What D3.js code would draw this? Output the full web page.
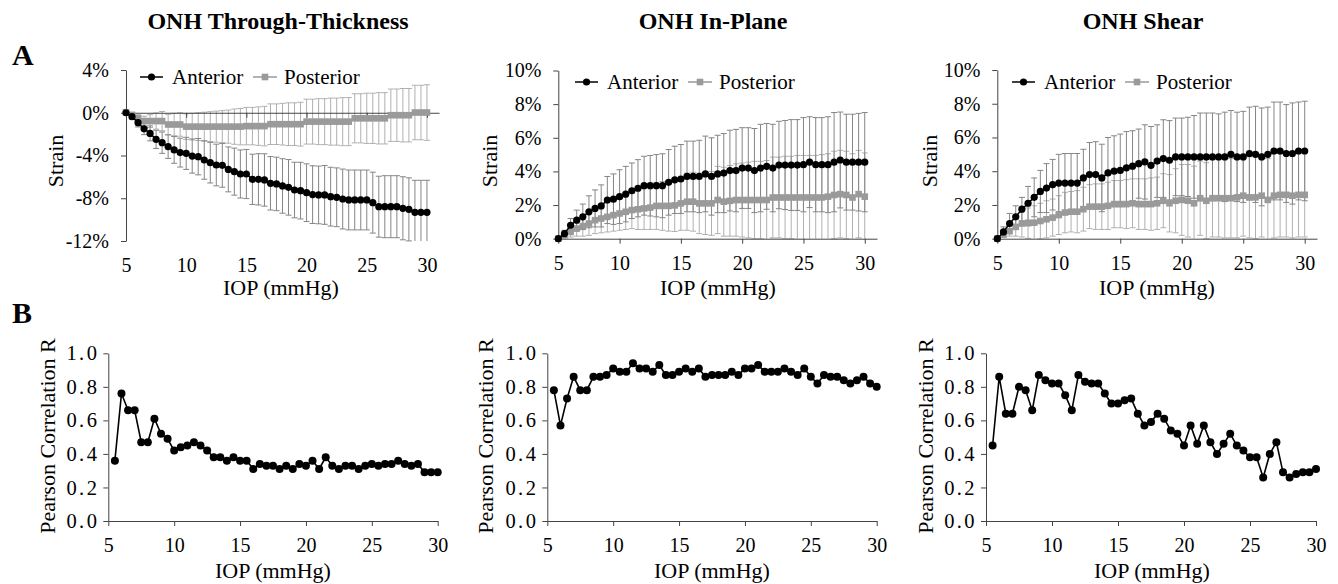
<!DOCTYPE html>
<html>
<head>
<meta charset="utf-8">
<script src="https://cdn.jsdelivr.net/npm/d3@7"></script>
<style>
  body { margin: 0; background: #fff; }
  svg { display: block; }
</style>
</head>
<body>
<script>
// ---- data ----
const iop = [5, 5.5, 6, 6.5, 7, 7.5, 8, 8.5, 9, 9.5, 10, 10.5, 11, 11.5, 12, 12.5, 13, 13.5, 14, 14.5,
  15, 15.5, 16, 16.5, 17, 17.5, 18, 18.5, 19, 19.5, 20, 20.5, 21, 21.5, 22, 22.5, 23, 23.5, 24, 24.5,
  25, 25.5, 26, 26.5, 27, 27.5, 28, 28.5, 29, 29.5, 30];
const iopCorr = iop.slice(1); // correlation starts at 5.5 mmHg

const panelTitles = ["ONH Through-Thickness", "ONH In-Plane", "ONH Shear"];
const seriesNames = ["Anterior", "Posterior"];
const xTicks = [5, 10, 15, 20, 25, 30];
const strainDomains = [[-12, 4], [0, 10], [0, 10]];
const strainTicks = [[4, 0, -4, -8, -12], [10, 8, 6, 4, 2, 0], [10, 8, 6, 4, 2, 0]];
const corrTicks = [0, 0.2, 0.4, 0.6, 0.8, 1.0];

// through-thickness strain (%)
const ttAnterior = [0, -0.37, -0.93, -1.5, -1.93, -2.49, -2.8, -3.17, -3.48, -3.73,
  -3.8, -4.05, -4.11, -4.42, -4.67, -4.89, -4.92, -5.3, -5.51, -5.73,
  -5.73, -6.23, -6.23, -6.29, -6.6, -6.66, -6.85, -6.98, -7.23, -7.29,
  -7.48, -7.66, -7.69, -7.69, -7.85, -7.91, -8.07, -8.16, -8.16, -8.16,
  -8.16, -8.41, -8.79, -8.79, -8.79, -8.79, -8.94, -9.04, -9.32, -9.32, -9.32];
const ttAnteriorSD = [0, 0.2, 0.4, 0.55, 0.7, 0.85, 1.0, 1.1, 1.25, 1.35,
  1.5, 1.6, 1.7, 1.8, 1.9, 1.95, 2.05, 2.1, 2.2, 2.25,
  2.3, 2.35, 2.4, 2.45, 2.5, 2.5, 2.55, 2.6, 2.6, 2.65,
  2.7, 2.7, 2.7, 2.75, 2.75, 2.75, 2.8, 2.8, 2.8, 2.8,
  2.8, 2.85, 2.85, 2.9, 2.9, 2.9, 2.95, 2.95, 3.0, 3.0, 3.0];
const ttPosterior = [0.05, -0.2, -0.5, -0.78, -0.78, -0.78, -0.78, -1.1, -1.1, -1.1,
  -1.3, -1.3, -1.3, -1.3, -1.3, -1.3, -1.3, -1.3, -1.3, -1.3,
  -1.25, -1.25, -1.25, -1.25, -1.07, -1.07, -1.07, -1.07, -1.07, -1.07,
  -0.83, -0.83, -0.83, -0.83, -0.83, -0.83, -0.83, -0.83, -0.52, -0.52,
  -0.52, -0.52, -0.52, -0.52, -0.23, -0.23, -0.23, -0.23, 0.02, 0.02, 0.02];
const ttPosteriorSD = [0, 0.15, 0.3, 0.45, 0.6, 0.75, 0.9, 0.95, 1.05, 1.1,
  1.2, 1.25, 1.3, 1.35, 1.4, 1.45, 1.5, 1.55, 1.65, 1.7,
  1.75, 1.75, 1.8, 1.85, 1.9, 1.9, 1.95, 2.0, 2.0, 2.05,
  2.1, 2.1, 2.15, 2.15, 2.2, 2.2, 2.25, 2.25, 2.3, 2.3,
  2.35, 2.35, 2.4, 2.4, 2.45, 2.45, 2.5, 2.5, 2.55, 2.55, 2.6];

// in-plane strain (%)
const ipAnterior = [0, 0.3, 0.8, 1.1, 1.3, 1.6, 1.8, 1.95, 2.3, 2.35,
  2.5, 2.65, 2.85, 3.0, 3.15, 3.15, 3.15, 3.15, 3.35, 3.5,
  3.55, 3.7, 3.7, 3.7, 3.85, 3.7, 3.85, 3.9, 4.05, 4.05,
  4.2, 4.2, 4.05, 4.2, 4.3, 4.2, 4.38, 4.38, 4.38, 4.38,
  4.4, 4.55, 4.4, 4.4, 4.4, 4.55, 4.68, 4.55, 4.55, 4.55, 4.55];
const ipAnteriorSD = [0, 0.2, 0.4, 0.6, 0.76, 0.95, 1.1, 1.25, 1.4, 1.5,
  1.6, 1.65, 1.65, 1.7, 1.75, 1.8, 1.85, 1.9, 1.95, 2.0,
  2.05, 2.1, 2.1, 2.15, 2.25, 2.3, 2.3, 2.35, 2.4, 2.45,
  2.4, 2.4, 2.5, 2.6, 2.55, 2.6, 2.6, 2.65, 2.7, 2.7,
  2.8, 2.7, 2.8, 2.8, 2.85, 2.95, 2.85, 2.85, 2.85, 2.9, 2.95];
const ipPosterior = [0, 0.2, 0.4, 0.6, 0.75, 0.9, 1.1, 1.2, 1.3, 1.4,
  1.5, 1.6, 1.7, 1.75, 1.8, 1.85, 1.95, 1.95, 1.95, 1.98,
  2.1, 2.2, 2.2, 2.1, 2.1, 2.1, 2.3, 2.2, 2.25, 2.3,
  2.3, 2.3, 2.3, 2.3, 2.3, 2.45, 2.45, 2.45, 2.45, 2.45,
  2.45, 2.45, 2.45, 2.45, 2.5, 2.6, 2.65, 2.6, 2.45, 2.65, 2.5];
const ipPosteriorSD = [0, 0.15, 0.3, 0.45, 0.6, 0.7, 0.8, 0.85, 0.9, 0.95,
  1.0, 1.05, 1.1, 1.2, 1.25, 1.3, 1.4, 1.45, 1.5, 1.55,
  1.6, 1.7, 1.75, 1.8, 1.85, 1.9, 2.0, 2.05, 2.1, 2.15,
  2.2, 2.25, 2.3, 2.3, 2.35, 2.4, 2.4, 2.45, 2.45, 2.5,
  2.5, 2.5, 2.5, 2.55, 2.55, 2.6, 2.6, 2.6, 2.6, 2.6, 2.6];

// shear strain (%)
const shAnterior = [0, 0.4, 0.9, 1.3, 1.75, 2.1, 2.45, 2.8, 3.0, 3.2,
  3.3, 3.3, 3.3, 3.3, 3.6, 3.8, 3.8, 3.6, 3.9, 4.0,
  4.05, 4.2, 4.3, 4.45, 4.55, 4.35, 4.6, 4.75, 4.65, 4.85,
  4.85, 4.85, 4.85, 4.85, 4.85, 4.85, 4.85, 4.85, 5.0, 4.85,
  4.85, 5.05, 5.0, 4.85, 5.0, 5.2, 5.2, 5.05, 5.05, 5.2, 5.2];
const shAnteriorSD = [0, 0.3, 0.6, 0.65, 0.7, 1.0, 1.15, 1.25, 1.45, 1.5,
  1.7, 1.75, 1.75, 1.75, 1.7, 1.9, 1.95, 2.0, 2.1, 2.1,
  2.15, 2.15, 2.1, 2.05, 2.2, 2.3, 2.15, 2.3, 2.35, 2.3,
  2.3, 2.35, 2.45, 2.6, 2.6, 2.6, 2.55, 2.65, 2.6, 2.65,
  2.7, 2.75, 2.85, 2.9, 2.8, 2.9, 2.9, 2.9, 3.0, 2.9, 2.95];
const shPosterior = [0, 0.25, 0.45, 0.7, 0.9, 0.92, 0.95, 1.05, 1.15, 1.25,
  1.4, 1.55, 1.6, 1.6, 1.75, 1.9, 1.9, 1.9, 1.95, 2.05,
  2.05, 2.05, 2.1, 2.05, 2.05, 2.05, 2.1, 2.25, 2.1, 2.25,
  2.3, 2.25, 2.1, 2.4, 2.25, 2.4, 2.4, 2.4, 2.4, 2.45,
  2.55, 2.45, 2.45, 2.55, 2.3, 2.55, 2.6, 2.6, 2.55, 2.6, 2.6];
const shPosteriorSD = [0, 0.15, 0.3, 0.55, 0.8, 0.9, 1.0, 1.05, 1.1, 1.1,
  1.15, 1.2, 1.2, 1.25, 1.3, 1.3, 1.35, 1.35, 1.4, 1.4,
  1.4, 1.45, 1.45, 1.5, 1.5, 1.55, 1.55, 1.6, 1.7, 1.9,
  2.1, 2.15, 2.2, 2.2, 2.25, 2.3, 2.3, 2.35, 2.35, 2.4,
  2.4, 2.4, 2.45, 2.45, 2.45, 2.5, 2.5, 2.5, 2.5, 2.5, 2.5];

// Pearson correlation R, anterior vs posterior
const rThrough = [0.36, 0.76, 0.66, 0.66, 0.47, 0.47, 0.61, 0.52, 0.49,
  0.42, 0.44, 0.45, 0.47, 0.45, 0.42, 0.38, 0.38, 0.36, 0.38,
  0.36, 0.36, 0.31, 0.34, 0.33, 0.33, 0.31, 0.33, 0.31, 0.34,
  0.33, 0.36, 0.31, 0.38, 0.33, 0.31, 0.33, 0.33, 0.31, 0.33,
  0.34, 0.33, 0.34, 0.34, 0.36, 0.34, 0.33, 0.34, 0.29, 0.29, 0.29];
const rInPlane = [0.78, 0.57, 0.73, 0.86, 0.78, 0.78, 0.86, 0.86, 0.87,
  0.91, 0.89, 0.89, 0.94, 0.91, 0.91, 0.89, 0.93, 0.87, 0.87,
  0.89, 0.91, 0.89, 0.91, 0.86, 0.87, 0.87, 0.87, 0.89, 0.87,
  0.91, 0.91, 0.93, 0.89, 0.89, 0.89, 0.91, 0.89, 0.87, 0.91,
  0.86, 0.82, 0.87, 0.86, 0.86, 0.84, 0.82, 0.84, 0.86, 0.82, 0.80];
const rShear = [0.45, 0.86, 0.64, 0.64, 0.80, 0.78, 0.66, 0.87, 0.84,
  0.82, 0.82, 0.75, 0.66, 0.87, 0.83, 0.82, 0.82, 0.76, 0.70,
  0.70, 0.72, 0.73, 0.64, 0.57, 0.59, 0.64, 0.61, 0.54, 0.52,
  0.45, 0.57, 0.46, 0.57, 0.47, 0.40, 0.46, 0.52, 0.45, 0.42,
  0.38, 0.38, 0.26, 0.40, 0.47, 0.29, 0.26, 0.28, 0.29, 0.29, 0.31];

const anteriorMeans = [ttAnterior, ipAnterior, shAnterior];
const anteriorSDs = [ttAnteriorSD, ipAnteriorSD, shAnteriorSD];
const posteriorMeans = [ttPosterior, ipPosterior, shPosterior];
const posteriorSDs = [ttPosteriorSD, ipPosteriorSD, shPosteriorSD];
const correlations = [rThrough, rInPlane, rShear];

// ---- layout ----
const width = 1338;
const height = 584;
const font = "'Liberation Serif', 'Times New Roman', Times, serif";
const axisColor = "#444";

const topLayout = [
  { left: 126, right: 439, top: 70, bottom: 241, legendX: 140, legendY: 77, titleX: 278, xTitleX: 281, yTitleX: 63 },
  { left: 558.3, right: 877, top: 70.5, bottom: 238.7, legendX: 575, legendY: 82, titleX: 713, xTitleX: 718, yTitleX: 497 },
  { left: 997.3, right: 1317, top: 70, bottom: 238.7, legendX: 1012, legendY: 82, titleX: 1143, xTitleX: 1157, yTitleX: 937 }
];
const bottomLayout = [
  { left: 108.3, right: 437.7, xTitleX: 273, yTitleX: 55 },
  { left: 547.3, right: 876.7, xTitleX: 712, yTitleX: 493 },
  { left: 986, right: 1316, xTitleX: 1152, yTitleX: 933 }
];
const bottomTop = 353.3;
const bottomBottom = 521;

const svg = d3.select("body").append("svg")
  .attr("width", width)
  .attr("height", height)
  .attr("font-family", font);

function styleAxis(g, size) {
  g.attr("font-family", font).attr("font-size", size);
  g.selectAll("text").attr("fill", "#000");
  g.selectAll("line").attr("stroke", axisColor);
  g.selectAll("path").attr("stroke", axisColor);
}

// panel letters
svg.append("text").attr("x", 12).attr("y", 65).attr("font-size", 30).attr("font-weight", "bold").text("A");
svg.append("text").attr("x", 12).attr("y", 323).attr("font-size", 30).attr("font-weight", "bold").text("B");

// ---- row A: strain vs IOP ----
topLayout.forEach((box, i) => {
  const g = svg.append("g");
  const x = d3.scaleLinear().domain([5, 31]).range([box.left, box.right]);
  const y = d3.scaleLinear().domain(strainDomains[i]).range([box.bottom, box.top]);
  const [lo, hi] = strainDomains[i];

  g.append("text")
    .attr("x", box.titleX).attr("y", 29)
    .attr("text-anchor", "middle")
    .attr("font-size", 24).attr("font-weight", "bold")
    .text(panelTitles[i]);

  const series = [
    { mean: anteriorMeans[i], sd: anteriorSDs[i], color: "#000", bar: "#858585" },
    { mean: posteriorMeans[i], sd: posteriorSDs[i], color: "#9a9a9a", bar: "#b0b0b0" }
  ];

  // error bars first, so markers sit on top
  series.slice().reverse().forEach(s => {
    const rows = iop.map((p, j) => ({ p, m: s.mean[j], sd: s.sd[j] }));
    const bars = g.append("g").attr("stroke", s.bar).attr("stroke-width", 1);
    bars.selectAll("line.v")
      .data(rows)
      .join("line")
      .attr("class", "v")
      .attr("x1", d => x(d.p)).attr("x2", d => x(d.p))
      .attr("y1", d => y(Math.max(d.m - d.sd, lo)))
      .attr("y2", d => y(Math.min(d.m + d.sd, hi)));
    const caps = [];
    rows.forEach(d => {
      if (d.sd > 0 && d.m - d.sd >= lo) caps.push({ p: d.p, v: d.m - d.sd });
      if (d.sd > 0 && d.m + d.sd <= hi) caps.push({ p: d.p, v: d.m + d.sd });
    });
    bars.selectAll("line.cap")
      .data(caps)
      .join("line")
      .attr("class", "cap")
      .attr("x1", d => x(d.p) - 3).attr("x2", d => x(d.p) + 3)
      .attr("y1", d => y(d.v)).attr("y2", d => y(d.v));
  });

  // axes
  g.append("g")
    .attr("transform", `translate(${box.left},0)`)
    .call(d3.axisLeft(y).tickValues(strainTicks[i]).tickSize(5).tickSizeOuter(0).tickPadding(12).tickFormat(d => d + "%"))
    .call(a => styleAxis(a, 20));

  g.append("g")
    .attr("transform", `translate(0,${y(0)})`)
    .call(d3.axisBottom(x).tickValues(xTicks).tickSize(5).tickSizeOuter(0).tickFormat(""))
    .call(a => styleAxis(a, 20));

  g.append("g")
    .attr("transform", `translate(0,${box.bottom})`)
    .call(d3.axisBottom(x).tickValues(xTicks).tickSize(0).tickPadding(17))
    .call(a => a.select(".domain").remove())
    .call(a => styleAxis(a, 20));

  // lines and markers: posterior under anterior
  const line = d3.line().x((d, j) => x(iop[j])).y(d => y(d));
  const post = series[1];
  g.append("path")
    .datum(post.mean)
    .attr("fill", "none").attr("stroke", post.color).attr("stroke-width", 1.5)
    .attr("d", line);
  g.append("g").selectAll("rect")
    .data(post.mean)
    .join("rect")
    .attr("x", (d, j) => x(iop[j]) - 3.3).attr("y", d => y(d) - 3.3)
    .attr("width", 6.6).attr("height", 6.6)
    .attr("fill", post.color);

  const ant = series[0];
  g.append("path")
    .datum(ant.mean)
    .attr("fill", "none").attr("stroke", ant.color).attr("stroke-width", 1.5)
    .attr("d", line);
  g.append("g").selectAll("circle")
    .data(ant.mean)
    .join("circle")
    .attr("cx", (d, j) => x(iop[j])).attr("cy", d => y(d))
    .attr("r", 3.6)
    .attr("fill", ant.color);

  // legend
  const lg = g.append("g").attr("transform", `translate(${box.legendX},${box.legendY})`);
  lg.append("line").attr("x1", 0).attr("x2", 23).attr("stroke", "#000").attr("stroke-width", 1.5);
  lg.append("circle").attr("cx", 11.5).attr("r", 3.6).attr("fill", "#000");
  lg.append("text").attr("x", 32).attr("y", 7).attr("font-size", 21).text(seriesNames[0]);
  lg.append("line").attr("x1", 113).attr("x2", 137).attr("stroke", "#9a9a9a").attr("stroke-width", 1.5);
  lg.append("rect").attr("x", 121.7).attr("y", -3.3).attr("width", 6.6).attr("height", 6.6).attr("fill", "#9a9a9a");
  lg.append("text").attr("x", 144).attr("y", 7).attr("font-size", 21).text(seriesNames[1]);

  // axis titles
  g.append("text")
    .attr("transform", `translate(${box.yTitleX},161) rotate(-90)`)
    .attr("text-anchor", "middle").attr("font-size", 22)
    .text("Strain");
  g.append("text")
    .attr("x", box.xTitleX).attr("y", 295)
    .attr("text-anchor", "middle").attr("font-size", 22)
    .text("IOP (mmHg)");
});

// ---- row B: Pearson correlation vs IOP ----
bottomLayout.forEach((box, i) => {
  const g = svg.append("g");
  const x = d3.scaleLinear().domain([5, 30]).range([box.left, box.right]);
  const y = d3.scaleLinear().domain([0, 1]).range([bottomBottom, bottomTop]);

  g.append("g")
    .attr("transform", `translate(0,${bottomBottom})`)
    .call(d3.axisBottom(x).tickValues(xTicks).tickSize(5).tickSizeOuter(0).tickPadding(12))
    .call(a => styleAxis(a, 20));

  // the R labels are set a little wider than the rest in the original
  g.append("g")
    .attr("transform", `translate(${box.left},0)`)
    .call(d3.axisLeft(y).tickValues(corrTicks).tickSize(5).tickSizeOuter(0).tickPadding(4).tickFormat(d3.format(".1f")))
    .call(a => styleAxis(a, 20.5))
    .call(a => a.selectAll("text").attr("letter-spacing", 2.4));

  const r = correlations[i];
  g.append("path")
    .datum(r)
    .attr("fill", "none").attr("stroke", "#000").attr("stroke-width", 1.6)
    .attr("d", d3.line().x((d, j) => x(iopCorr[j])).y(d => y(d)));
  g.append("g").selectAll("circle")
    .data(r)
    .join("circle")
    .attr("cx", (d, j) => x(iopCorr[j])).attr("cy", d => y(d))
    .attr("r", 4)
    .attr("fill", "#000");

  g.append("text")
    .attr("transform", `translate(${box.yTitleX},436) rotate(-90)`)
    .attr("text-anchor", "middle").attr("font-size", 22)
    .text("Pearson Correlation R");
  g.append("text")
    .attr("x", box.xTitleX).attr("y", 578)
    .attr("text-anchor", "middle").attr("font-size", 22)
    .text("IOP (mmHg)");
});
</script>
</body>
</html>
